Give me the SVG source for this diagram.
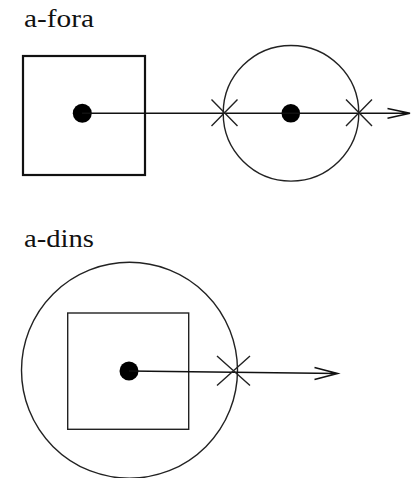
<svg xmlns="http://www.w3.org/2000/svg" width="412" height="478" viewBox="0 0 412 478">
<style>
.lbl{font-family:"Liberation Serif",serif;font-size:25px;fill:#111}
.thick{fill:none;stroke:#111;stroke-width:2.2}
.thin{fill:none;stroke:#222;stroke-width:1.4}
.dot{fill:#000}
.conn{fill:none;stroke:#111;stroke-width:1.6}
.cross{stroke:#222;stroke-width:1.4}
</style>
<rect width="412" height="478" fill="#fff"/>
<g id="label-fora"><text class="lbl" x="24" y="27" textLength="70" lengthAdjust="spacingAndGlyphs">a-fora</text></g>
<g id="label-dins"><text class="lbl" x="24" y="247" textLength="70" lengthAdjust="spacingAndGlyphs">a-dins</text></g>

<g id="square-fora"><rect class="thick" x="23" y="56" width="122" height="119"/></g>
<g id="circle-fora"><circle class="thin" cx="291" cy="113.3" r="67.8"/></g>
<g id="dot-fora-1"><circle class="dot" cx="82.3" cy="113.3" r="9.5"/></g>
<g id="dot-fora-2"><circle class="dot" cx="290.8" cy="113.3" r="9.3"/></g>

<g id="circle-dins"><circle class="thin" cx="129.5" cy="370.3" r="108"/></g>
<g id="square-dins"><rect class="thin" x="67.7" y="313" width="121" height="116.3"/></g>
<g id="dot-dins"><circle class="dot" cx="129" cy="371" r="9.5"/></g>

<g id="connectors">
<path class="conn" d="M82 113.3 H410 M387.5 108.5 L410 113.3 L387.5 118.2"/>
<path class="cross" d="M211.5 99.5 L237.5 126 M211.5 126 L237.5 99.5"/>
<path class="cross" d="M346 99.5 L372 126 M346 126 L372 99.5"/>
<path class="conn" d="M129 371 L337.5 373.5 M314.5 367.5 L337.5 373.5 L314.5 379.5"/>
<path class="cross" d="M217 356 L250 385.5 M217 385.5 L250 356"/>
</g>
</svg>
